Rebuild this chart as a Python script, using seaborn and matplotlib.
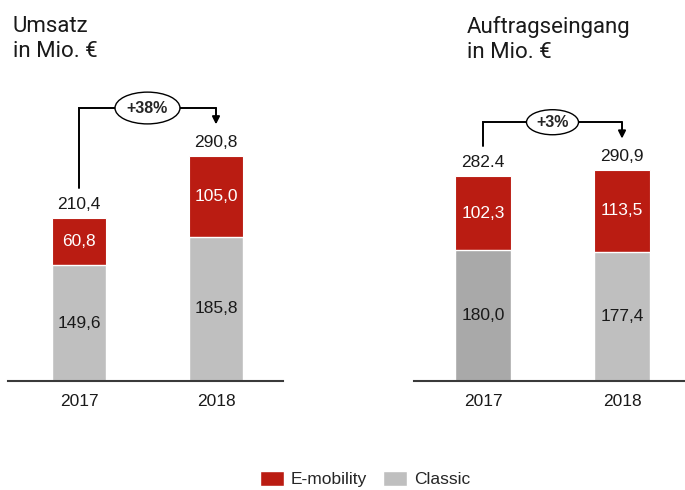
import matplotlib
matplotlib.use("Agg")
import matplotlib.pyplot as plt
from matplotlib.patches import Ellipse, Patch
import seaborn as sns

# data
years = ["2017", "2018"]
umsatz_classic = [149.6, 185.8]
umsatz_emob = [60.8, 105.0]
umsatz_total_labels = ["210,4", "290,8"]
auftrag_classic = [180.0, 177.4]
auftrag_emob = [102.3, 113.5]
auftrag_total_labels = ["282.4", "290,9"]

red = "#ba1c12"
gray = "#bfbfbf"
dark_gray = "#a9a9a9"

sns.set_theme(style="white")
plt.rcParams["font.family"] = ["Liberation Sans", "DejaVu Sans"]

fig = plt.figure(figsize=(6.85, 4.9), dpi=100)
ax_l = fig.add_axes([8 / 685, 109 / 490, 275 / 685, 321 / 490])
ax_r = fig.add_axes([414 / 685, 109 / 490, 271 / 685, 321 / 490])


def fmt(v):
    return f"{v:.1f}".replace(".", ",")


def draw_panel(ax, classic, emob, total_labels, classic_colors, ymax, xlim, ell_w, ell_h):
    totals = [c + e for c, e in zip(classic, emob)]
    sns.barplot(x=years, y=totals, color=red, width=0.4, errorbar=None, ax=ax,
                edgecolor="white", linewidth=0.8, saturation=1)
    sns.barplot(x=years, y=classic, hue=years, palette=classic_colors, legend=False,
                width=0.4, errorbar=None, ax=ax, edgecolor="white", linewidth=1.0,
                saturation=1)
    ax.set_ylim(0, ymax)
    ax.set_xlim(*xlim)

    for i in range(len(years)):
        ax.text(i, classic[i] / 2, fmt(classic[i]), ha="center", va="center",
                fontsize=12.5, color="#1a1a1a")
        ax.text(i, classic[i] + emob[i] / 2, fmt(emob[i]), ha="center", va="center",
                fontsize=12.5, color="white")
        ax.annotate(total_labels[i], xy=(i, totals[i]), xytext=(0, 4),
                    textcoords="offset points", ha="center", va="bottom",
                    fontsize=12.5, color="#1a1a1a")

    # growth bracket
    a, b = totals[0], totals[1]
    left_y = a + 0.093 * ymax
    top_y = max(a, b) + 0.148 * ymax
    tip_y = b + 0.097 * ymax
    ax.plot([0, 0, 1], [left_y, top_y, top_y], color="black", lw=1.4,
            solid_joinstyle="miter", clip_on=False)
    ax.annotate("", xy=(1, tip_y), xytext=(1, top_y),
                arrowprops=dict(arrowstyle="-|>", color="black", lw=1.4,
                                mutation_scale=11, shrinkA=0, shrinkB=0))
    ax.add_patch(Ellipse((0.5, top_y), ell_w, ell_h * ymax, facecolor="white",
                         edgecolor="black", lw=1.0, zorder=5, clip_on=False))
    pct = round((b / a - 1) * 100)
    ax.text(0.5, top_y, f"+{pct}%", ha="center", va="center", fontsize=11.5,
            fontweight="bold", zorder=6)

    for s in ["top", "left", "right"]:
        ax.spines[s].set_visible(False)
    ax.spines["bottom"].set_color("#3a3a3a")
    ax.spines["bottom"].set_linewidth(1.5)
    ax.set_yticks([])
    ax.set_xlabel("")
    ax.set_ylabel("")
    ax.tick_params(axis="x", length=0, pad=9, labelsize=12.5, labelcolor="#1a1a1a")


draw_panel(ax_l, umsatz_classic, umsatz_emob, umsatz_total_labels,
           [gray, gray], 414, (-0.518, 1.489), 0.474, 0.099)
draw_panel(ax_r, auftrag_classic, auftrag_emob, auftrag_total_labels,
           [dark_gray, gray], 442, (-0.496, 1.453), 0.374, 0.078)

fig.text(13 / 685, 1 - 16 / 490, "Umsatz\nin Mio. €", ha="left", va="top",
         fontsize=16, family="Roboto", linespacing=1.25, color="#1a1a1a")
fig.text(467 / 685, 1 - 16 / 490, "Auftragseingang\nin Mio. €", ha="left", va="top",
         fontsize=16, family="Roboto", linespacing=1.25, color="#1a1a1a")

handles = [Patch(facecolor=red, edgecolor="white", label="E-mobility"),
           Patch(facecolor=gray, edgecolor="white", label="Classic")]
fig.legend(handles=handles, loc="center", bbox_to_anchor=(365 / 685, 11 / 490),
           ncol=2, frameon=False, fontsize=12.5, handlelength=1.4, handleheight=1.0,
           handletextpad=0.4, columnspacing=0.9)

fig.savefig("out.png", dpi=100)
